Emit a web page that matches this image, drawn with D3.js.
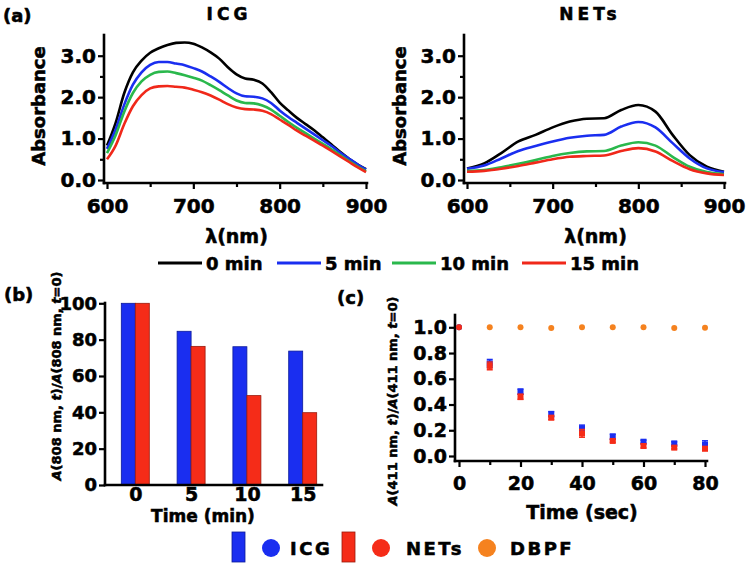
<!DOCTYPE html>
<html>
<head>
<meta charset="utf-8">
<script src="https://cdn.jsdelivr.net/npm/d3@7"></script>
<style>
  html, body { margin: 0; padding: 0; background: #fff; }
  svg { display: block; }
  text { font-family: "DejaVu Sans", "Liberation Sans", Arial, sans-serif; font-weight: bold; fill: #000;
         stroke: #000; stroke-width: 0.55px; paint-order: stroke; }
</style>
</head>
<body>
<svg id="chart" width="750" height="569"></svg>
<script>
// ---------------- DATA ----------------
const timeLabels = ["0 min", "5 min", "10 min", "15 min"];
const timeColors = ["#000000", "#1a2ef0", "#2ab84c", "#f0281a"];

const icgWavelengths = [600,610,620,630,640,650,660,670,680,690,700,710,720,730,740,750,760,770,780,790,800,810,820,830,840,850,860,870,880,890,900];
const icg0  = [0.83,1.38,2.10,2.60,2.88,3.07,3.18,3.26,3.31,3.32,3.29,3.20,3.08,2.93,2.72,2.55,2.45,2.42,2.33,2.12,1.87,1.68,1.50,1.35,1.20,1.03,0.86,0.68,0.52,0.38,0.26];
const icg5  = [0.75,1.22,1.82,2.30,2.60,2.78,2.85,2.85,2.81,2.77,2.70,2.62,2.50,2.37,2.22,2.09,2.02,2.01,1.97,1.86,1.68,1.52,1.38,1.24,1.10,0.96,0.82,0.66,0.52,0.38,0.25];
const icg10 = [0.65,1.08,1.65,2.10,2.38,2.54,2.61,2.62,2.58,2.53,2.47,2.40,2.29,2.17,2.04,1.92,1.86,1.85,1.80,1.70,1.55,1.40,1.26,1.13,1.00,0.87,0.74,0.60,0.46,0.33,0.21];
const icg15 = [0.50,0.83,1.35,1.78,2.05,2.21,2.26,2.27,2.25,2.23,2.18,2.12,2.04,1.94,1.83,1.75,1.71,1.70,1.67,1.59,1.46,1.33,1.19,1.07,0.95,0.83,0.70,0.57,0.44,0.31,0.19];

const netsWavelengths = [600,620,640,660,680,700,720,740,760,780,800,820,840,860,880,900];
const nets0  = [0.28,0.40,0.65,0.93,1.09,1.27,1.41,1.48,1.49,1.69,1.81,1.65,1.09,0.60,0.32,0.20];
const nets5  = [0.27,0.35,0.52,0.70,0.82,0.93,1.02,1.07,1.09,1.29,1.40,1.27,0.89,0.52,0.28,0.19];
const nets10 = [0.22,0.24,0.31,0.39,0.48,0.58,0.65,0.69,0.70,0.83,0.91,0.83,0.56,0.32,0.19,0.14];
const nets15 = [0.20,0.22,0.27,0.34,0.42,0.50,0.56,0.58,0.59,0.70,0.77,0.69,0.46,0.26,0.16,0.12];

const spectraYTicks = [0, 1, 2, 3];
const spectraXTicks = [600, 700, 800, 900];

// (b) bar chart
const barCategories = ["0", "5", "10", "15"];
const barICG  = [100, 84.6, 76.1, 73.7];
const barNETs = [100, 76.3, 49.2, 39.8];
const barYTicks = [0, 20, 40, 60, 80, 100];

// (c) scatter
const timeSec   = [0, 10, 20, 30, 40, 50, 60, 70, 80];
const scICG     = [1.0, 0.72, 0.50, 0.325, 0.215, 0.15, 0.111, 0.098, 0.088];
const scICGErr  = [0.0, 0.03, 0.02, 0.02, 0.025, 0.02, 0.012, 0.012, 0.03];
const scNETs    = [1.0, 0.70, 0.46, 0.298, 0.176, 0.117, 0.078, 0.065, 0.057];
const scNETsErr = [0.0, 0.03, 0.02, 0.015, 0.03, 0.01, 0.015, 0.01, 0.015];
const scDBPF    = [1.0, 1.0, 1.0, 0.995, 1.0, 1.0, 1.0, 0.995, 0.997];
const scYTicks  = [0, 0.2, 0.4, 0.6, 0.8, 1.0];
const scXTicks  = [0, 20, 40, 60, 80];

const BLUE = "#1a2ef0", RED = "#f52c18", ORANGE = "#f5821f";

// ---------------- DRAW ----------------
const svg = d3.select("#chart");

function styleAxis(sel, fontSize) {
  sel.select(".domain").remove();
  sel.selectAll(".tick line").attr("stroke", "#000").attr("stroke-width", 2.2);
  sel.selectAll(".tick text").style("font-size", fontSize + "px").style("font-weight", "bold")
     .style("font-family", '"DejaVu Sans", sans-serif').attr("fill", "#000");
}
function axisLine(x1, y1, x2, y2) {
  svg.append("line").attr("x1", x1).attr("y1", y1).attr("x2", x2).attr("y2", y2)
     .attr("stroke", "#000").attr("stroke-width", 2.6).attr("stroke-linecap", "square");
}

function spectraPanel(cfg) {
  const x = d3.scaleLinear().domain([600, 900]).range([cfg.x0, cfg.x1]);
  const y = d3.scaleLinear().domain([0, 3.5]).range([180, 35]);
  const axY = cfg.axisX, axXy = 183;
  const gMinX = svg.append("g").attr("transform", `translate(0,${axXy})`)
    .call(d3.axisBottom(x).tickValues([650, 750, 850]).tickSize(4).tickFormat(""));
  styleAxis(gMinX, 10);
  const gX = svg.append("g").attr("transform", `translate(0,${axXy})`)
    .call(d3.axisBottom(x).tickValues(spectraXTicks).tickSize(6).tickPadding(10).tickFormat(d3.format("d")));
  styleAxis(gX, 20);
  const gMinY = svg.append("g").attr("transform", `translate(${axY},0)`)
    .call(d3.axisLeft(y).tickValues([0.5, 1.5, 2.5]).tickSize(4).tickFormat(""));
  styleAxis(gMinY, 10);
  const gY = svg.append("g").attr("transform", `translate(${axY},0)`)
    .call(d3.axisLeft(y).tickValues(spectraYTicks).tickSize(6).tickPadding(2).tickFormat(d3.format(".1f")));
  styleAxis(gY, 20);
  axisLine(axY, axXy, axY, y(3.5));
  axisLine(axY, axXy, x(900) + 1, axXy);

  const line = d3.line().curve(d3.curveMonotoneX).x(d => x(d[0])).y(d => y(d[1]));
  cfg.series.forEach((s, i) => {
    svg.append("path").datum(cfg.wl.map((w, j) => [w, s[j]]))
      .attr("d", line).attr("fill", "none").attr("stroke", timeColors[i]).attr("stroke-width", 2.6);
  });
  svg.append("text").attr("x", cfg.titleX).attr("y", 20).attr("text-anchor", "middle")
    .style("font-size", "17px").style("letter-spacing", "4px").text(cfg.title);
  svg.append("text").attr("transform", `translate(${cfg.labelX},106) rotate(-90)`)
    .attr("text-anchor", "middle").style("font-size", "18px").text("Absorbance");
  svg.append("text").attr("x", (cfg.x0 + cfg.x1) / 2).attr("y", 243).attr("text-anchor", "middle")
    .style("font-size", "19px").text("λ(nm)");
}

spectraPanel({ x0: 107, x1: 366, axisX: 104, wl: icgWavelengths, series: [icg0, icg5, icg10, icg15],
  title: "ICG", titleX: 229, labelX: 45 });
spectraPanel({ x0: 467, x1: 724, axisX: 464, wl: netsWavelengths, series: [nets0, nets5, nets10, nets15],
  title: "NETs", titleX: 590, labelX: 406 });

svg.append("text").attr("x", 3).attr("y", 22).style("font-size", "18px").text("(a)");

// legend for spectra
const legX = [158, 277, 392, 522];
timeLabels.forEach((t, i) => {
  svg.append("line").attr("x1", legX[i]).attr("x2", legX[i] + 44).attr("y1", 263).attr("y2", 263)
    .attr("stroke", timeColors[i]).attr("stroke-width", 3);
  svg.append("text").attr("x", legX[i] + 48).attr("y", 270).style("font-size", "18px").text(t);
});

// ---------- (b) ----------
{
  const x = d3.scalePoint().domain(barCategories).range([135.3, 302.7]);
  const y = d3.scaleLinear().domain([0, 100]).range([485, 303.3]);
  const bw = 14;
  const gY = svg.append("g").attr("transform", "translate(105,0)")
    .call(d3.axisLeft(y).tickValues(barYTicks).tickSize(6).tickPadding(2));
  styleAxis(gY, 18);
  const gX = svg.append("g").attr("transform", "translate(0,485)")
    .call(d3.axisBottom(x).tickSize(0).tickPadding(2));
  styleAxis(gX, 19);
  barCategories.forEach((c, i) => {
    svg.append("rect").attr("x", x(c) - bw).attr("y", y(barICG[i])).attr("width", bw)
      .attr("height", y(0) - y(barICG[i])).attr("fill", BLUE).attr("stroke", "#0b1a9a").attr("stroke-width", 0.8);
    svg.append("rect").attr("x", x(c)).attr("y", y(barNETs[i])).attr("width", bw)
      .attr("height", y(0) - y(barNETs[i])).attr("fill", RED).attr("stroke", "#9a1a0c").attr("stroke-width", 0.8);
  });
  axisLine(105, 485, 105, 303);
  axisLine(105, 485, 322, 485);
  svg.append("text").attr("x", 4).attr("y", 301).style("font-size", "18px").text("(b)");
  svg.append("text").attr("x", 203).attr("y", 522).attr("text-anchor", "middle").style("font-size", "17px").text("Time (min)");
  const lab = svg.append("text").attr("transform", "translate(61,376) rotate(-90)").attr("text-anchor", "middle")
    .style("font-size", "13px");
  lab.append("tspan").style("font-style", "italic").text("A");
  lab.append("tspan").text("(808 nm, ");
  lab.append("tspan").style("font-style", "italic").text("t");
  lab.append("tspan").text(")/");
  lab.append("tspan").style("font-style", "italic").text("A");
  lab.append("tspan").text("(808 nm, ");
  lab.append("tspan").style("font-style", "italic").text("t");
  lab.append("tspan").text("=0)");
}

// ---------- (c) ----------
{
  const x = d3.scaleLinear().domain([0, 80]).range([459, 705]);
  const y = d3.scaleLinear().domain([0, 1]).range([456, 327.3]);
  const gMinX = svg.append("g").attr("transform", "translate(0,461)")
    .call(d3.axisBottom(x).tickValues([10, 30, 50, 70]).tickSize(4).tickFormat(""));
  styleAxis(gMinX, 10);
  const gX = svg.append("g").attr("transform", "translate(0,461)")
    .call(d3.axisBottom(x).tickValues(scXTicks).tickSize(6).tickPadding(10));
  styleAxis(gX, 19);
  const gY = svg.append("g").attr("transform", "translate(455,0)")
    .call(d3.axisLeft(y).tickValues(scYTicks).tickSize(6).tickPadding(2).tickFormat(d3.format(".1f")));
  styleAxis(gY, 19);
  axisLine(455, 461, 455, 315);
  axisLine(455, 461, 707, 461);

  function series(vals, errs, color, shape) {
    timeSec.forEach((t, i) => {
      const cx = x(t), cy = y(vals[i]);
      if (errs && errs[i] > 0) {
        const y1 = y(vals[i] + errs[i]), y2 = y(vals[i] - errs[i]);
        svg.append("line").attr("x1", cx).attr("x2", cx).attr("y1", y1).attr("y2", y2).attr("stroke", color).attr("stroke-width", 1.5);
        [y1, y2].forEach(yy => svg.append("line").attr("x1", cx - 3).attr("x2", cx + 3).attr("y1", yy).attr("y2", yy)
          .attr("stroke", color).attr("stroke-width", 1.5));
      }
      if (shape === "square" && t !== 0) {
        svg.append("rect").attr("x", cx - 3).attr("y", cy - 3).attr("width", 6).attr("height", 6).attr("fill", color);
      } else {
        svg.append("circle").attr("cx", cx).attr("cy", cy).attr("r", 3).attr("fill", color);
      }
    });
  }
  series(scDBPF, null, ORANGE, "circle");
  series(scICG, scICGErr, BLUE, "square");
  series(scNETs, scNETsErr, RED, "square");

  svg.append("text").attr("x", 337).attr("y", 304).style("font-size", "18px").text("(c)");
  svg.append("text").attr("x", 582).attr("y", 519).attr("text-anchor", "middle").style("font-size", "19px").text("Time (sec)");
  const lab = svg.append("text").attr("transform", "translate(397,401) rotate(-90)").attr("text-anchor", "middle")
    .style("font-size", "13px");
  lab.append("tspan").style("font-style", "italic").text("A");
  lab.append("tspan").text("(411 nm, ");
  lab.append("tspan").style("font-style", "italic").text("t");
  lab.append("tspan").text(")/");
  lab.append("tspan").style("font-style", "italic").text("A");
  lab.append("tspan").text("(411 nm, ");
  lab.append("tspan").style("font-style", "italic").text("t");
  lab.append("tspan").text("=0)");
}

// ---------- bottom legend ----------
{
  const items = [
    { rect: BLUE, rectStroke: "#0b1a9a", rx: 232, circle: BLUE, cx: 271, label: "ICG", tx: 290 },
    { rect: RED, rectStroke: "#9a1a0c", rx: 342, circle: RED, cx: 381, label: "NETs", tx: 406 },
    { rect: null, circle: ORANGE, cx: 487, label: "DBPF", tx: 510 }
  ];
  items.forEach(it => {
    if (it.rect) svg.append("rect").attr("x", it.rx).attr("y", 532).attr("width", 13).attr("height", 30)
      .attr("fill", it.rect).attr("stroke", it.rectStroke).attr("stroke-width", 0.8);
    svg.append("circle").attr("cx", it.cx).attr("cy", 548).attr("r", 9).attr("fill", it.circle);
    svg.append("text").attr("x", it.tx).attr("y", 555).style("font-size", "18px").style("letter-spacing", "2.5px").text(it.label);
  });
}
</script>
</body>
</html>
